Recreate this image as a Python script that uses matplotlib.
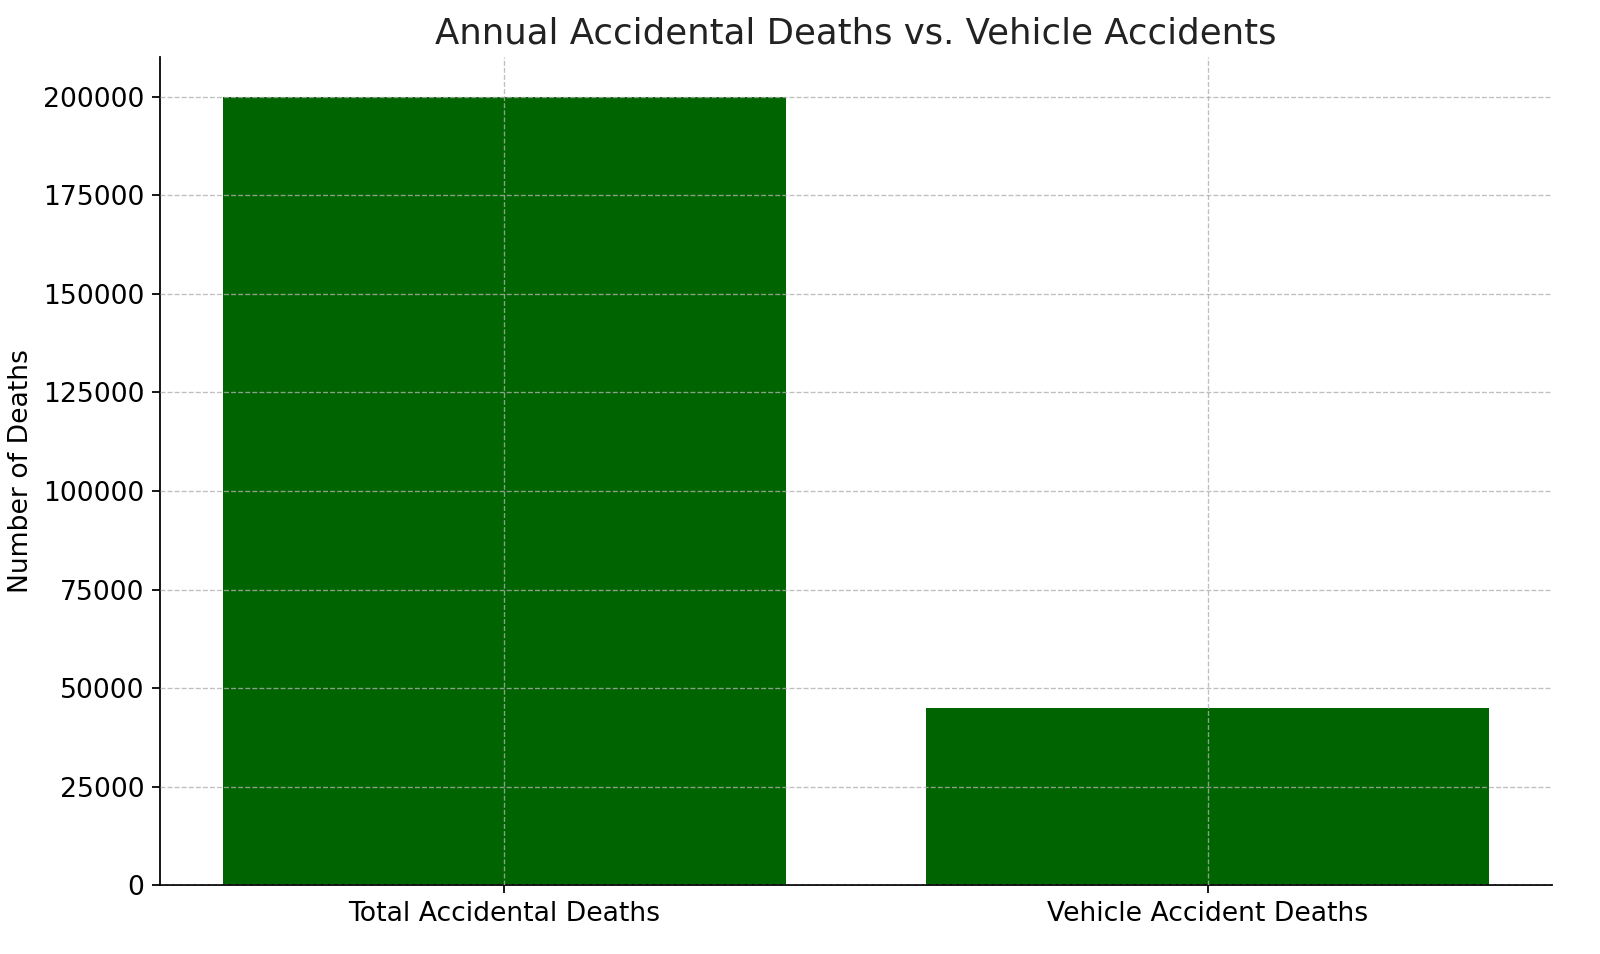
import matplotlib
matplotlib.use('Agg')
import matplotlib.pyplot as plt

# values
categories = ['Total Accidental Deaths', 'Vehicle Accident Deaths']
deaths = [200000, 45000]

fig, ax = plt.subplots(figsize=(10, 5.9625), dpi=160)
ax.bar(categories, deaths, color='darkgreen')

ax.set_title('Annual Accidental Deaths vs. Vehicle Accidents', fontsize=16, color='#222222')
ax.set_ylabel('Number of Deaths', fontsize=12)
ax.tick_params(labelsize=12)
# thin light dashed grid drawn on top of the bars
ax.grid(True, linestyle='--', linewidth=0.6, alpha=0.8, color='#b0b0b0')
ax.set_axisbelow(False)
ax.spines['top'].set_visible(False)
ax.spines['right'].set_visible(False)

fig.subplots_adjust(left=0.1, right=0.97, top=0.94, bottom=0.072)
fig.savefig('out.png')
